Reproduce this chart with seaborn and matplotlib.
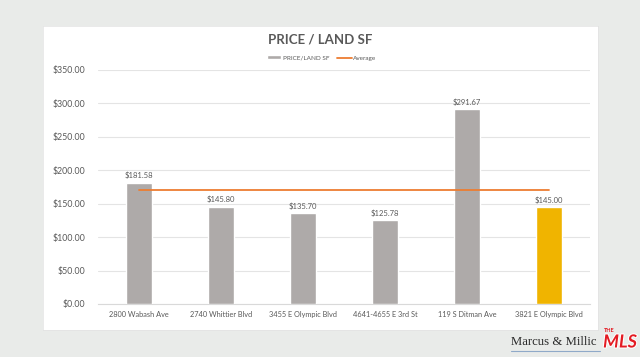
import numpy as np
import pandas as pd
import matplotlib
matplotlib.use("Agg")
import matplotlib.pyplot as plt
import matplotlib.patheffects as pe
from matplotlib.patches import Rectangle
from matplotlib.lines import Line2D
import seaborn as sns

properties = ["2800 Wabash Ave", "2740 Whittier Blvd", "3455 E Olympic Blvd",
              "4641-4655 E 3rd St", "119 S Ditman Ave", "3821 E Olympic Blvd"]
price_per_land_sf = [181.58, 145.80, 135.70, 125.78, 291.67, 145.00]
is_subject = [False, False, False, False, False, True]
y_ticks = [0, 50, 100, 150, 200, 250, 300, 350]

GRAY_BAR = "#aeaaa9"
GOLD_BAR = "#f0b400"
ORANGE = "#ed7d31"
TEXT = "#595959"
BG = "#e9ebe9"

df = pd.DataFrame({"property": properties, "value": price_per_land_sf,
                   "kind": ["subject" if s else "comp" for s in is_subject]})
average = float(np.mean(price_per_land_sf))

sns.set_style("white")
plt.rcParams["font.family"] = ["Lato", "DejaVu Sans"]

fig = plt.figure(figsize=(6.4, 3.57), dpi=100, facecolor=BG)

# white chart panel behind everything
panel = fig.add_axes([43 / 640, 1 - 330 / 357, 555 / 640, 304 / 357], zorder=0)
panel.set_facecolor("white")
panel.set_xticks([])
panel.set_yticks([])
for s in panel.spines.values():
    s.set_color("#e2e2e2")
    s.set_linewidth(0.5)

ax = fig.add_axes([98 / 640, 1 - 304 / 357, 492 / 640, 234 / 357], zorder=2)
ax.set_facecolor("none")
sns.barplot(data=df, x="property", y="value", hue="kind",
            palette={"comp": GRAY_BAR, "subject": GOLD_BAR}, saturation=1,
            dodge=False, width=0.32, legend=False, ax=ax, zorder=3)

for i, v in enumerate(price_per_land_sf):
    ax.text(i, v + 5, f"${v:,.2f}", ha="center", va="bottom", fontsize=5.5, color=TEXT)

ax.plot([0, len(properties) - 1], [average, average], color=ORANGE, lw=1.3, zorder=4)

ax.set_xlim(-0.5, len(properties) - 0.5)
ax.set_ylim(0, 350)
ax.set_yticks(y_ticks)
ax.set_yticklabels([f"${t:,.2f}" for t in y_ticks])
ax.tick_params(axis="y", labelsize=6.3, colors=TEXT, length=0, pad=9)
ax.tick_params(axis="x", labelsize=5.3, colors=TEXT, length=0, pad=5)
ax.set_xlabel("")
ax.set_ylabel("")
ax.grid(axis="y", color="#e4e4e4", lw=0.8, zorder=0)
ax.set_axisbelow(True)
for s in ["top", "right", "left"]:
    ax.spines[s].set_visible(False)
ax.spines["bottom"].set_color("#d9d9d9")
ax.spines["bottom"].set_linewidth(0.8)

fig.text(320 / 640, 1 - 40 / 357, "PRICE / LAND SF", ha="center", va="center",
         fontsize=9.5, fontweight="bold", color=TEXT, zorder=5)

handles = [Rectangle((0, 0), 1, 1, facecolor=GRAY_BAR),
           Line2D([0], [0], color=ORANGE, lw=1.3)]
leg = fig.legend(handles, ["PRICE/LAND SF", "Average"], loc="center",
                 bbox_to_anchor=(322 / 640, 1 - 58 / 357), ncol=2, frameon=False,
                 fontsize=4.6, handlelength=2.2, handleheight=0.6, columnspacing=1.2,
                 handletextpad=0.3, labelcolor=TEXT)
leg.set_zorder(5)

# watermark logos
fig.text(511 / 640, 1 - 342 / 357, "Marcus & Millic", ha="left", va="center",
         fontsize=9.2, color="#2b2b2b", family="Liberation Serif")
fig.add_artist(Line2D([511 / 640, 600 / 640], [1 - 351 / 357, 1 - 351 / 357],
                      transform=fig.transFigure, color="#8fa9c8", lw=0.8))
fig.text(620 / 640, 1 - 342 / 357, "MLS", ha="center", va="center", fontsize=13,
         fontweight="bold", style="italic", color="#e31b23",
         path_effects=[pe.withStroke(linewidth=1.5, foreground="white")])
fig.text(609 / 640, 1 - 330 / 357, "THE", ha="center", va="center", fontsize=4,
         fontweight="bold", color="#e31b23")

fig.savefig("out.png", dpi=100, facecolor=BG)
